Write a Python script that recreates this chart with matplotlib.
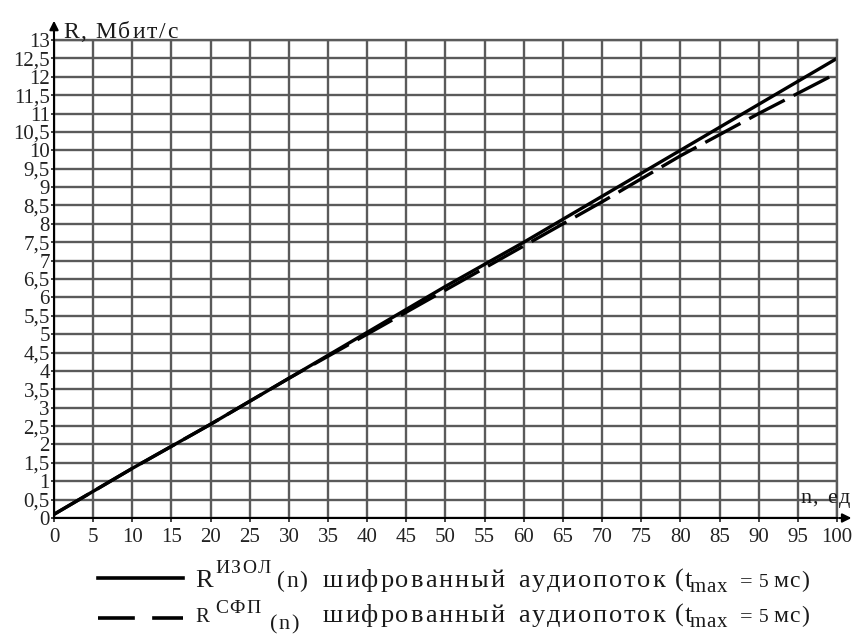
import matplotlib.pyplot as plt

plt.rcParams['font.family'] = ['Liberation Serif', 'DejaVu Serif']

n = [0, 10, 20, 30, 40, 50, 60, 70, 80, 90, 100]
r_izol = [0.1, 1.35, 2.55, 3.8, 5.05, 6.3, 7.5, 8.75, 10.0, 11.25, 12.5]
r_sfp = [0.1, 1.35, 2.55, 3.8, 5.0, 6.2, 7.4, 8.6, 9.85, 11.0, 12.1]

x_ticks = list(range(0, 101, 5))
y_ticks = [i * 0.5 for i in range(27)]
y_labels = [("%g" % v).replace(".", ",") for v in y_ticks]

series_sup = ["ИЗОЛ", "СФП"]
legend_words = ["шифрованный", "аудиопоток"]

W, H = 854, 635


def px(x, y):
    return x / W, (H - y) / H


fig = plt.figure(figsize=(8.54, 6.35), dpi=100)
renderer = fig.canvas.get_renderer()


def put(x, y, s, fs, track=0.0):
    # text with extra letter spacing, x/y in pixels from top-left, y = baseline
    for ch in s:
        t = fig.text(*px(x, y), ch, fontsize=fs, va="baseline", color="#1a1a1a")
        x += t.get_window_extent(renderer).width + track
    return x


ax = fig.add_axes([54 / W, (H - 518) / H, (837 - 54) / W, (518 - 40) / H])

ax.plot(n, r_izol, color="black", lw=2.4, solid_capstyle="butt")
ax.plot(n, r_sfp, color="black", lw=2.4, dashes=(12, 3))

ax.set_xlim(0, 100)
ax.set_ylim(0, 13)
ax.set_xticks(x_ticks)
ax.set_yticks(y_ticks)
ax.set_yticklabels(y_labels)
ax.tick_params(axis="x", labelsize=15, length=3, width=1.2, pad=4, colors="#222")
ax.tick_params(axis="y", labelsize=15, length=2, width=1.2, pad=1, colors="#222")
ax.grid(True, color="#5a5a5a", lw=1.7)
for s in ["top", "right"]:
    ax.spines[s].set_color("#5a5a5a")
    ax.spines[s].set_linewidth(1.7)
for s in ["left", "bottom"]:
    ax.spines[s].set_color("black")
    ax.spines[s].set_linewidth(1.5)

# axis arrows
ax.annotate("", xy=(0, 13.6), xytext=(0, 12.9),
            arrowprops=dict(arrowstyle="-|>", color="black", lw=1.5, mutation_scale=13),
            annotation_clip=False)
ax.annotate("", xy=(102.2, 0), xytext=(99.9, 0),
            arrowprops=dict(arrowstyle="-|>", color="black", lw=1.5, mutation_scale=13),
            annotation_clip=False)

# axis names
xx = put(63, 38, "R,", 17, 1.5)
put(xx + 8, 38, "Мбит/с", 17, 1.8)
xx = put(800, 503, "n,", 16, 1)
put(xx + 9, 503, "ед", 16, 1)

# legend below the axes
fig.add_artist(plt.Line2D([98 / W, 183 / W], [px(0, 578)[1]] * 2, color="black", lw=2.6))
fig.add_artist(plt.Line2D([98 / W, 183 / W], [px(0, 618)[1]] * 2, color="black", lw=2.6,
                          dashes=(10.2, 4.8)))

rows = [
    dict(base=587, r_fs=19, sup_y=573, n_x=277, n_y=587, n_fs=17),
    dict(base=622, r_fs=15, sup_y=613, n_x=270, n_y=629, n_fs=16),
]
for row, sup in zip(rows, series_sup):
    b = row["base"]
    put(195, b, "R", row["r_fs"])
    put(215, row["sup_y"], sup, 14, 1.5)
    put(row["n_x"], row["n_y"], "(n)", row["n_fs"], 1.5)
    put(323, b, legend_words[0], 19, 1.9)
    put(518, b, legend_words[1], 19, 1.8)
    put(675, b, "(t", 19, 0.5)
    put(690, b + 5, "max", 15, 0.5)
    xx = put(740, b, "=", 16)
    xx = put(xx + 6, b, "5", 14)
    put(xx + 5, b, "мс)", 17, 1)

fig.savefig("out.png", dpi=100)
